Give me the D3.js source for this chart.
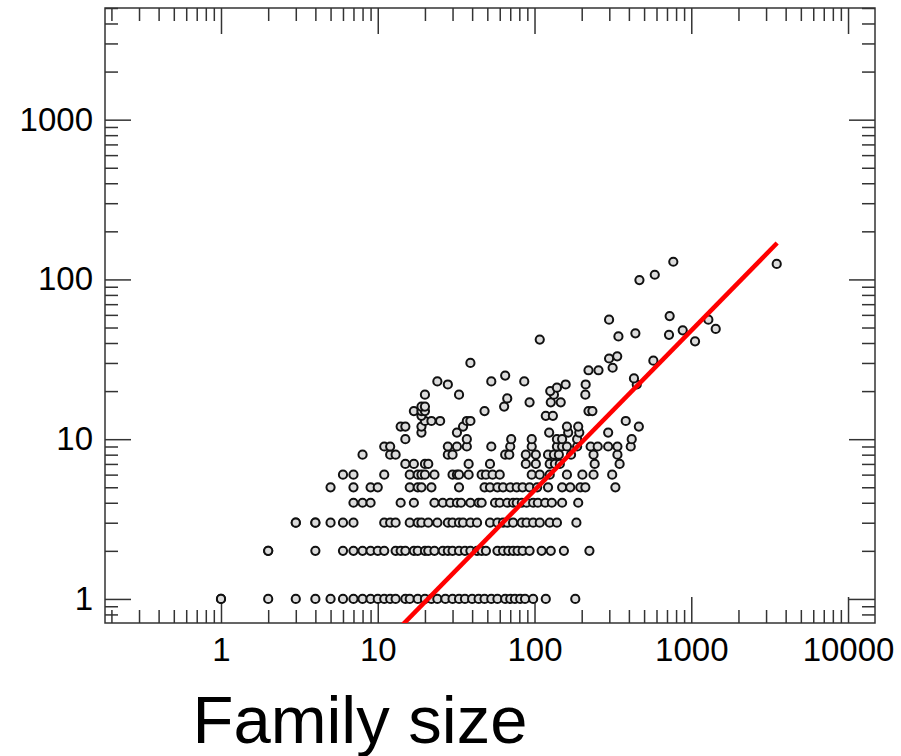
<!DOCTYPE html>
<html>
<head>
<meta charset="utf-8">
<script src="https://cdn.jsdelivr.net/npm/d3@7"></script>
<style>
  body { margin: 0; background: #fff; }
  svg { display: block; font-family: "Liberation Sans", Arial, Helvetica, sans-serif; }
</style>
</head>
<body>
<svg id="chart" width="901" height="756"></svg>
<script>
// Integer count rows at the bottom: family sizes
const rowCounts = [1, 2, 3, 4, 5, 6, 7, 8, 9, 10, 11, 12, 13];
const rowSizes = [
    [1, 1, 2, 3, 4, 5, 6, 7, 8, 9, 10, 11, 12, 13, 15, 16, 18, 20, 22, 24, 27, 30, 33, 36, 40, 44, 48, 53, 58, 65, 70, 75, 81, 87, 98, 118, 182],
    [2, 2, 4, 6, 7, 8, 9, 10, 11, 13, 14, 15, 17, 18, 20, 21, 23, 26, 28, 30, 33, 36, 39, 43, 46, 49, 58, 63, 68, 73, 78, 84, 93, 111, 127, 154, 224],
    [3, 3, 4, 4, 5, 6, 7, 11, 12, 13, 16, 18, 19, 21, 24, 28, 30, 33, 35, 39, 43, 52, 58, 63, 67, 73, 83, 89, 98, 108, 125, 139, 185],
    [7, 8, 9, 14, 17, 23, 26, 29, 32, 34, 39, 44, 46, 56, 60, 67, 73, 77, 83, 89, 98, 105, 117, 129, 150, 190],
    [5, 7, 9, 10, 16, 18, 19, 22, 33, 48, 52, 58, 63, 70, 77, 84, 93, 104, 122, 150, 169, 196, 211, 328],
    [6, 7, 11, 16, 18, 19, 20, 23, 30, 32, 33, 38, 46, 49, 54, 60, 96, 108, 125, 161, 202, 238, 313],
    [15, 17, 20, 21, 38, 52, 88, 102, 125, 135, 145, 242, 349],
    [8, 12, 13, 28, 30, 65, 69, 88, 102, 122, 133, 143, 171, 238, 338],
    [11, 12, 28, 32, 37, 53, 70, 96, 139, 150, 161, 187, 228, 253, 295, 338, 411],
    [15, 37, 71, 96, 139, 150, 187, 417],
    [19, 32, 124, 164, 193, 295],
    [14, 15, 19, 35, 161, 190, 463],
    [20, 22, 25, 37, 39, 382]
];

// Scattered points higher up
const spreadSize  = [19, 118, 131, 17, 19, 20, 48, 221, 234, 19, 20, 64, 93, 127, 147, 67,
                     20, 33, 133, 211, 126, 139, 28, 158, 212, 449, 24, 53, 86, 431, 65,
                     221, 256, 315, 39, 573, 299, 337, 1057, 108, 343, 721, 440, 882, 1432,
                     299, 1285, 728, 467, 585, 3508, 768];
const spreadCount = [14, 14, 14, 15, 15, 15, 15, 15, 15, 16, 16, 16, 17, 17, 17, 18,
                     19, 19, 19, 19, 20, 21, 22, 22, 22, 22, 23, 23, 23, 24, 25,
                     27, 27, 28, 30, 31, 32, 33, 41, 42, 44, 45, 46, 48, 49,
                     56, 56, 59, 99, 107, 125, 129];

// Red fitted line, two ends
const fitSize  = [14, 3530];
const fitCount = [0.67, 169];

const xTickLabels = [1, 10, 100, 1000, 10000];
const yTickLabels = [1, 10, 100, 1000];
const xTitle = "Family size";

// Plot frame
var frame = { left: 105, right: 875, top: 8, bottom: 623 };

var svg = d3.select("#chart");

var x = d3.scaleLog()
    .domain([0.182, 14860])
    .range([frame.left, frame.right]);

var y = d3.scaleLog()
    .domain([0.707, 5000])
    .range([frame.bottom, frame.top]);

// minor tick values: 1..9 times each power of ten inside the domain
function logTicks(scale) {
    var d = scale.domain(), out = [];
    for (var e = -1; e <= 4; e++) {
        for (var k = 1; k <= 9; k++) {
            var v = k * Math.pow(10, e);
            if (v >= d[0] * 0.999 && v <= d[1] * 1.001) out.push(v);
        }
    }
    return out;
}

var xMinor = logTicks(x).filter(v => xTickLabels.indexOf(v) < 0);
var yMinor = logTicks(y).filter(v => yTickLabels.indexOf(v) < 0);

var tickColor = "#333";

function drawTicks(axis, tx, ty, values, size) {
    var g = svg.append("g")
        .attr("transform", "translate(" + tx + "," + ty + ")")
        .call(axis.tickValues(values).tickSize(size).tickSizeOuter(0).tickFormat(""));
    g.select(".domain").remove();
    g.selectAll("line").attr("stroke", tickColor).attr("stroke-width", 1.5);
}

// bottom + top ticks point inward
drawTicks(d3.axisTop(x), 0, frame.bottom, xMinor, 13);
drawTicks(d3.axisTop(x), 0, frame.bottom, xTickLabels, 26);
drawTicks(d3.axisBottom(x), 0, frame.top, xMinor, 13);
drawTicks(d3.axisBottom(x), 0, frame.top, xTickLabels, 26);
// left + right
drawTicks(d3.axisRight(y), frame.left, 0, yMinor, 13);
drawTicks(d3.axisRight(y), frame.left, 0, yTickLabels, 26);
drawTicks(d3.axisLeft(y), frame.right, 0, yMinor, 13);
drawTicks(d3.axisLeft(y), frame.right, 0, yTickLabels, 26);

// tick labels
var xl = svg.append("g")
    .attr("transform", "translate(0," + frame.bottom + ")")
    .call(d3.axisBottom(x).tickValues(xTickLabels).tickSize(0).tickPadding(15).tickFormat(d3.format("d")));
xl.select(".domain").remove();
xl.selectAll("text").attr("font-size", 33).attr("fill", "#000").attr("font-family", null);

var yl = svg.append("g")
    .attr("transform", "translate(" + frame.left + ",0)")
    .call(d3.axisLeft(y).tickValues(yTickLabels).tickSize(0).tickPadding(12).tickFormat(d3.format("d")));
yl.select(".domain").remove();
yl.selectAll("text").attr("font-size", 33).attr("fill", "#000").attr("font-family", null);

// frame box
svg.append("rect")
    .attr("x", frame.left)
    .attr("y", frame.top)
    .attr("width", frame.right - frame.left)
    .attr("height", frame.bottom - frame.top)
    .attr("fill", "none")
    .attr("stroke", tickColor)
    .attr("stroke-width", 1.5);

svg.append("clipPath")
    .attr("id", "plotClip")
  .append("rect")
    .attr("x", frame.left)
    .attr("y", frame.top)
    .attr("width", frame.right - frame.left)
    .attr("height", frame.bottom - frame.top);

// flatten rows + spread points
var pts = [];
rowCounts.forEach((c, i) => {
    rowSizes[i].forEach(s => pts.push({ size: s, count: c }));
});
spreadSize.forEach((s, i) => pts.push({ size: s, count: spreadCount[i] }));

var plot = svg.append("g").attr("clip-path", "url(#plotClip)");

plot.selectAll(".dot")
    .data(pts)
    .enter()
    .append("circle")
        .attr("class", "dot")
        .attr("cx", d => x(d.size))
        .attr("cy", d => y(d.count))
        .attr("r", 4.1)
        .attr("fill", "#dcdcdc")
        .attr("stroke", "#111")
        .attr("stroke-width", 2);

var fit = fitSize.map((s, i) => [s, fitCount[i]]);

plot.append("path")
    .datum(fit)
    .attr("d", d3.line().x(d => x(d[0])).y(d => y(d[1])))
    .attr("fill", "none")
    .attr("stroke", "#ff0000")
    .attr("stroke-width", 4.5);

// x axis title
svg.append("text")
    .attr("x", 360)
    .attr("y", 743)
    .attr("text-anchor", "middle")
    .attr("font-size", 67)
    .attr("fill", "#000")
    .text(xTitle);
</script>
</body>
</html>
